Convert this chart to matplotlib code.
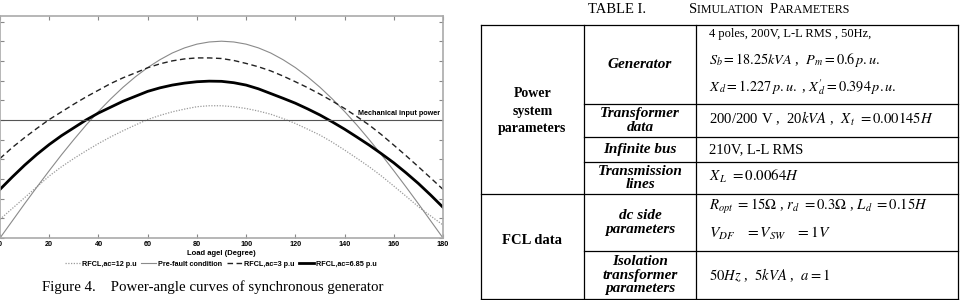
import numpy as np
import matplotlib.pyplot as plt

W, H = 968, 300

# ---- power-angle data (p.u. vs load angle in degrees)
delta = [0, 5, 10, 15, 20, 25, 30, 35, 40, 45, 50, 55, 60, 65, 70, 75, 80, 85, 90,
         95, 100, 105, 110, 115, 120, 125, 130, 135, 140, 145, 150, 155, 160, 165, 170, 175, 180]
p_prefault = [0.0, 0.087, 0.174, 0.259, 0.342, 0.423, 0.5, 0.574, 0.643, 0.707, 0.766, 0.819,
              0.866, 0.906, 0.94, 0.966, 0.985, 0.996, 1.0, 0.996, 0.985, 0.966, 0.94, 0.906,
              0.866, 0.819, 0.766, 0.707, 0.643, 0.574, 0.5, 0.423, 0.342, 0.259, 0.174, 0.087, 0.0]
p_ac12 = [0.095, 0.15, 0.205, 0.26, 0.315, 0.362, 0.404, 0.443, 0.48, 0.514, 0.545, 0.574,
          0.602, 0.623, 0.641, 0.655, 0.667, 0.672, 0.672, 0.667, 0.658, 0.645, 0.629, 0.607,
          0.582, 0.553, 0.523, 0.487, 0.447, 0.405, 0.362, 0.315, 0.264, 0.212, 0.159, 0.112, 0.066]
p_ac3 = [0.404, 0.46, 0.51, 0.557, 0.602, 0.641, 0.68, 0.717, 0.751, 0.785, 0.814, 0.839,
         0.865, 0.885, 0.90, 0.91, 0.915, 0.915, 0.912, 0.902, 0.887, 0.87, 0.849, 0.823,
         0.794, 0.764, 0.731, 0.696, 0.658, 0.617, 0.574, 0.525, 0.472, 0.418, 0.362, 0.305, 0.247]
p_ac685 = [0.247, 0.31, 0.37, 0.425, 0.475, 0.52, 0.56, 0.60, 0.635, 0.665, 0.695, 0.72,
           0.745, 0.763, 0.777, 0.787, 0.794, 0.797, 0.796, 0.789, 0.777, 0.758, 0.734, 0.71,
           0.685, 0.656, 0.625, 0.59, 0.553, 0.513, 0.472, 0.428, 0.382, 0.331, 0.277, 0.218, 0.156]
p_mech = 0.6

x_ticks = [0, 20, 40, 60, 80, 100, 120, 140, 160, 180]
y_ticks = [0, 0.1, 0.2, 0.3, 0.4, 0.5, 0.6, 0.7, 0.8, 0.9, 1.0, 1.1]

# ---- table text
group_labels = ['Power\nsystem\nparameters', 'FCL data']
row_labels = ['Generator', 'Transformer\ndata', 'Infinite bus', 'Transmission\nlines',
              'dc side\nparameters', 'Isolation\ntransformer\nparameters']
row_values = [
    ['4 poles, 200V, L-L RMS , 50Hz,',
     r'$S_b=18.25kVA$ ,  $P_m=0.6\,p.u.$',
     r"$X_{\,d}=1.227\,p.u.$ , $X^{\prime}_{\,d}=0.394\,p.u.$"],
    [r'200/200 V ,  20$kVA$ ,  $X_{\,t}\ =0.00145H$'],
    ['210V, L-L RMS'],
    [r'$X_{\,L}\ =0.0064H$'],
    [r'$R_{opt}\ =15\Omega$ , $r_d\ =0.3\Omega$ , $L_d\ =0.15H$',
     r'$V_{DF}\ \ \ =V_{SW}\ \ \ =1V$'],
    [r'$50Hz$ ,  $5kVA$ ,  $a=1$'],
]
value_size = [[9, 10.3, 10.3], [10.6], [10.5], [10.8], [10.6, 11.2], [10.5]]

plt.rcParams['mathtext.fontset'] = 'stix'
serif = 'Liberation Serif'
sans = 'Liberation Sans'

fig = plt.figure(figsize=(W / 100, H / 100), dpi=100)


def fx(px):
    return px / W


def fy(py):
    return 1 - py / H


# ---- chart
ax = fig.add_axes([fx(0), fy(238), fx(443), (238 - 16) / H])
ax.plot(delta, p_ac12, color='#9a9a9a', lw=0.9, ls=(0, (1, 1.2)), label='RFCL,ac=12 p.u')
ax.plot(delta, p_prefault, color='#8a8a8a', lw=0.8, label='Pre-fault condition')
ax.plot(delta, p_ac3, color='#222222', lw=1.0, ls=(0, (4, 2.5)), label='RFCL,ac=3 p.u')
ax.plot(delta, p_ac685, color='black', lw=2.0, label='RFCL,ac=6.85 p.u')
ax.axhline(p_mech, color='#555555', lw=0.8)
ax.text(179, p_mech + 0.015, 'Mechanical input power', ha='right', va='bottom',
        fontsize=5.2, fontweight='bold', family=sans)

ax.set_xlim(0, 180)
ax.set_ylim(0, 1.128)
ax.set_xticks(x_ticks)
ax.set_yticks(y_ticks)
ax.tick_params(direction='in', length=3, width=0.8, color='#888888',
               top=True, right=True, labelsize=5.2, pad=2.5, labelleft=False)
for lab in ax.get_xticklabels():
    lab.set_fontweight('bold')
    lab.set_family(sans)
for s in ax.spines.values():
    s.set_color('#aaaaaa')
    s.set_linewidth(1.2)
ax.set_xlabel('Load agel (Degree)', fontsize=5.5, fontweight='bold', family=sans, labelpad=1)

fig.legend(loc='center', bbox_to_anchor=(fx(221), fy(264)), ncol=4, frameon=False,
           prop={'family': sans, 'weight': 'bold', 'size': 5.2},
           handlelength=2.1, columnspacing=0.6, handletextpad=0.3)

fig.text(fx(42), fy(287), 'Figure 4.    Power-angle curves of synchronous generator',
         fontsize=10.7, family=serif, va='center', ha='left')

# ---- table
L, C1, C2, R = 481, 584, 696, 958
T, B = 25, 299
row_bottoms = [104, 137, 162, 194, 251, 299]
row_tops = [T] + row_bottoms[:-1]
kw = dict(color='black', lw=0.9, transform=fig.transFigure)


def hline(y, x0, x1):
    fig.add_artist(plt.Line2D([fx(x0), fx(x1)], [fy(y), fy(y)], **kw))


def vline(x, y0, y1):
    fig.add_artist(plt.Line2D([fx(x), fx(x)], [fy(y0), fy(y1)], **kw))


hline(T, L, R)
hline(B, L, R)
hline(194, L, R)
for yb in [104, 137, 162, 251]:
    hline(yb, C1, R)
for xv in [L, C1, C2, R]:
    vline(xv, T, B)

# title in small caps, laid out run by run
renderer = fig.canvas.get_renderer()


def runs(x, y, parts):
    for s, size in parts:
        t = fig.text(fx(x), fy(y), s, fontsize=size, family=serif, va='baseline')
        x += t.get_window_extent(renderer).width


runs(588, 13, [('TABLE I.', 10.5)])
runs(689, 13, [('S', 10.5), ('IMULATION  ', 8.6), ('P', 10.5), ('ARAMETERS', 8.6)])

fig.text(fx((L + C1) / 2), fy(111), group_labels[0], fontsize=10, family=serif,
         fontweight='bold', ha='center', va='center', linespacing=1.47)
fig.text(fx((L + C1) / 2), fy(240), group_labels[1], fontsize=10.5, family=serif,
         fontweight='bold', ha='center', va='center')

for lab, t, b in zip(row_labels, row_tops, row_bottoms):
    fig.text(fx((C1 + C2) / 2), fy((t + b) / 2), lab, fontsize=11, family=serif,
             fontweight='bold', style='italic', ha='center', va='center', linespacing=1.07)

value_y = [[34, 60, 87], [119], [150], [176], [207, 233], [275]]
for vals, ys, sizes in zip(row_values, value_y, value_size):
    for v, y, sz in zip(vals, ys, sizes):
        fig.text(fx(709), fy(y), v, fontsize=sz, family=serif, ha='left', va='center')

fig.savefig('out.png', dpi=100)
